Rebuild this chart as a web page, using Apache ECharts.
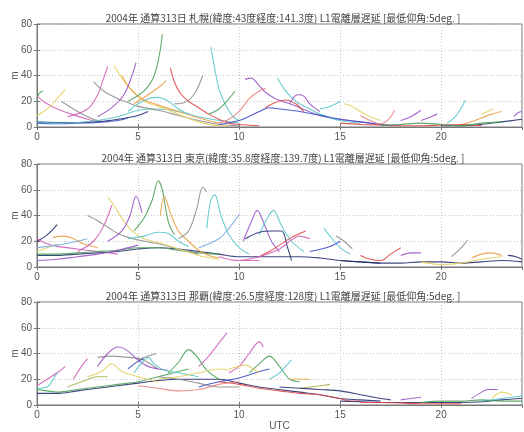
<!DOCTYPE html>
<html><head><meta charset="utf-8">
<script src="https://cdn.jsdelivr.net/npm/echarts@6/dist/echarts.min.js"></script>
<style>html,body{margin:0;padding:0;background:#fff}#c{width:524px;height:432px}</style>
</head><body><div id="c"></div>
<script>
// ---- data ----
const panelTitles = [
  "2004年 通算313日 札幌(緯度:43度経度:141.3度) L1電離層遅延 [最低仰角:5deg. ]",
  "2004年 通算313日 東京(緯度:35.8度経度:139.7度) L1電離層遅延 [最低仰角:5deg. ]",
  "2004年 通算313日 那覇(緯度:26.5度経度:128度) L1電離層遅延 [最低仰角:5deg. ]"
];
const xTicks = [0, 5, 10, 15, 20];
const yTicks = [0, 20, 40, 60, 80];
const xName = "UTC";
const yName = "m";

const sapporoPasses = [
  [[0,21],[0.1,26],[0.3,28]],
  [[0,24],[0.5,18],[1,14],[1.7,10],[2.5,6],[3,4]],
  [[0,9],[0.5,14],[1,22],[1.4,29]],
  [[1.2,20],[1.8,14],[2.5,8],[3,5],[3.5,4]],
  [[0,4],[1,3.5],[2,3.5],[3,4],[4,6],[5,9],[5.5,12]],
  [[0,3],[1,2.5],[2,3],[3,3.5],[4,5],[4.5,7]],
  [[0,4],[1,3],[2,3.5],[3,5],[4,8],[5,13],[6,14],[7,12],[8,8],[9,5],[10,3]],
  [[1.5,8],[2.5,14],[3,25],[3.3,38],[3.5,47]],
  [[2.8,35],[3.3,28],[4,22],[4.5,19],[5,16],[6,13],[7,9],[8,5],[9,2],[10,1]],
  [[3.8,48],[4.2,38],[4.7,28],[5.3,20],[6,16],[7,10],[8,4],[9,1],[9.5,1]],
  [[4.2,40],[4.6,30],[5.2,22],[6,17],[7,12],[8,7],[9,3]],
  [[3,8],[3.7,15],[4.3,25],[4.7,40],[4.9,50]],
  [[4.5,20],[5.3,28],[5.8,40],[6.1,60],[6.2,72]],
  [[4.8,18],[5.5,25],[6.2,33],[6.4,36]],
  [[4.5,12],[5,18],[5.5,22],[6,23],[6.5,20],[7,14],[7.5,10]],
  [[6.6,46],[6.8,35],[7.1,26],[7.5,20],[8,15],[8.5,10],[9,6],[9.5,3],[10,2],[11,1]],
  [[6.8,18],[7.3,19],[7.8,26],[8.2,40]],
  [[8.6,62],[8.8,45],[9,30],[9.3,18],[9.7,8],[10,5]],
  [[8.5,10],[9,14],[9.5,22],[9.8,28]],
  [[10.3,37],[10.6,38],[11,32],[11.3,27],[11.8,22],[12.5,18],[13,15],[14,9],[15,6],[16,4],[17,2]],
  [[9,3],[9.5,6],[10,12],[10.5,22],[11,28],[11.3,30]],
  [[11.9,38],[12.3,28],[12.8,20],[13.5,14],[14,10],[15,5],[16,3]],
  [[11.3,15],[11.8,19],[12.3,21],[12.8,18],[13.2,12]],
  [[12.5,18],[12.9,25],[13.2,24],[13.5,18],[14,12]],
  [[9,2],[10,5],[11,12],[11.5,15],[12,14],[13,12],[14,9],[15,6],[16,4],[17,2],[18,1.5]],
  [[14,14],[14.5,16],[15,20]],
  [[15.2,18],[15.6,16],[16,12],[16.5,8],[17,5]],
  [[16,9],[16.5,5],[17,2.5],[17.4,6],[17.7,13]],
  [[18,5],[18.5,8],[19,13]],
  [[19,5],[19.5,8],[19.8,10]],
  [[20.3,3],[20.7,8],[21,15],[21.2,21]],
  [[21,2],[21.5,4],[22,7],[22.5,10],[23,12]],
  [[22,10],[22.3,12],[22.6,14]],
  [[23.6,8],[23.8,11],[24,12]],
  [[20,1],[21,1],[22,2],[23,4],[24,6]],
  [[15,3],[16,2],[17,1.5],[18,1],[19,1],[20,1.5],[21,2],[22,1]],
  [[17,1],[18,2],[19,3],[20,2],[21,1],[22,3],[23,4]]
];
const sapporoColors = ["G","M","Y","K","N","B","C","M","K","Y","O","P","G","O","C","R","K","C","G","P","S","C","R","P","B","C","Y","S","P","P","C","O","Y","P","N","R","G"];

const tokyoPasses = [
  [[0,20],[0.5,25],[1,33]],
  [[0,22],[0.5,18],[1,16],[2,14],[3,12],[4,10]],
  [[0,9],[1,9],[2,10],[3,11],[4,12],[5,14],[6,15],[7,14],[8,12],[9,10],[10,8],[11,8],[12,8],[13,8],[14,7],[15,5],[16,4],[17,3]],
  [[0,10],[1,10],[2,11],[3,12],[4,13],[5,15],[6,15],[7,13],[8,11],[9,10]],
  [[0,5],[1,6],[2,8],[3,10],[4,13],[5,17]],
  [[0.8,23],[1.3,24],[1.8,22],[2.3,18],[3,15]],
  [[0,12],[0.5,15],[1,18]],
  [[2.5,40],[3,36],[3.5,31],[4,26],[4.5,23],[5,21],[6,18],[7,14],[8,10]],
  [[2,12],[2.8,20],[3.3,32],[3.7,48]],
  [[3.5,54],[3.8,48],[4.2,38],[4.7,28],[5.3,22],[6,19],[7,14],[8,9],[9,6]],
  [[3.5,20],[4.2,28],[4.6,40],[4.9,55],[5.2,42]],
  [[4.8,28],[5.3,38],[5.7,52],[6,67],[6.2,60],[6.5,35],[6.8,25]],
  [[6.1,40],[6.3,55],[6.6,42],[7,28],[7.5,20],[8,13],[8.5,9],[9,7]],
  [[4.5,22],[5.3,24],[6,27],[6.5,26],[7,20],[7.5,16]],
  [[7,22],[7.5,28],[7.9,45],[8.2,62],[8.4,58]],
  [[8.4,30],[8.6,52],[8.8,56],[9.1,40],[9.5,25],[10,15],[10.5,10]],
  [[8,15],[9,22],[9.5,30],[10,41]],
  [[10.2,20],[10.6,35],[10.9,44],[11.2,35],[11.6,20],[12,12]],
  [[11,25],[11.4,38],[11.7,44],[12.1,32],[12.6,20],[13.2,12]],
  [[10.3,22],[11,27],[11.6,28],[12.1,28],[12.4,15],[12.6,5]],
  [[11,8],[11.5,12],[12,17],[12.6,23],[13.3,28]],
  [[10,5],[11,8],[12,14],[12.5,20],[13,24],[13.5,22]],
  [[14.2,30],[14.5,24],[15,15],[15.5,10]],
  [[14.8,24],[15.2,20],[15.6,14]],
  [[13.5,12],[14.5,16],[15,20]],
  [[16,9],[16.5,6],[17,5],[17.5,10],[18,15]],
  [[18,9],[18.5,11],[19,11]],
  [[20.5,8],[21,15],[21.3,21]],
  [[21.5,7],[22,10],[22.5,11],[23,9]],
  [[15,5],[16,4],[17,3],[18,3],[19,4],[20,4],[21,3],[22,4],[23,5],[24,4]],
  [[23.3,9],[23.7,8],[24,6]],
  [[19,4],[20,2],[21,3],[22,6],[23,8]],
  [[9,8],[10,5],[11,5]],
  [[0,15],[1,17],[2,20],[2.5,22]]
];
const tokyoColors = ["N","M","N","G","P","O","Y","K","M","Y","P","G","O","C","K","C","L","P","C","N","R","M","C","K","B","R","P","K","O","N","N","Y","M","L"];

const nahaPasses = [
  [[0,15],[0.5,20],[1,25],[1.4,30]],
  [[0,13],[0.5,14],[0.8,20],[1,25]],
  [[0,9],[1,9],[2,11],[3,13],[4,15],[5,17],[6,19],[7,20],[8,20],[9,20],[10,17],[11,14],[12,12],[13,10],[14,8],[15,5],[16,4],[17,3]],
  [[0,12],[0.5,11],[1,10],[2,12],[3,14],[4,16],[5,18],[6,22],[7,26],[7.5,28]],
  [[1.8,20],[2.2,30],[2.5,36]],
  [[1.5,14],[2.2,18],[3,22],[3.5,22]],
  [[3,37],[3.7,38],[4.5,37],[5.1,36],[5.5,33],[6,28]],
  [[3,30],[3.5,40],[4,45],[4.4,43],[5,35],[5.5,30],[6,28],[6.5,27]],
  [[2.5,22],[3.2,26],[3.7,32],[4.2,26],[5,22],[6,18]],
  [[4.5,28],[5,34],[5.3,36]],
  [[4.8,25],[5.2,33],[5.5,37],[5.8,32],[6.3,27],[7,25],[8,22]],
  [[5,35],[5.5,38],[5.9,40]],
  [[6.5,25],[7,33],[7.5,43],[7.9,38],[8.4,27],[9,20]],
  [[8,30],[8.5,38],[9,48],[9.4,56]],
  [[9.5,25],[10,30],[10.5,40],[11,49],[11.2,45]],
  [[10.5,25],[11,32],[11.5,38],[12,30],[12.5,20],[13,18]],
  [[11.5,20],[12,25],[12.3,30],[12.6,35]],
  [[8,14],[9,18],[10,21],[11,26],[11.5,28]],
  [[9.5,28],[10,30],[10.3,31],[10.8,27],[11,25]],
  [[12.5,20],[13,20],[13.5,20]],
  [[9,18],[10,16],[11,13],[12,11],[13,9],[14,8],[15,5],[15.5,3],[16,3]],
  [[15,3],[16,2.5],[17,2],[18,2],[19,2],[20,2],[21,2],[22,2.5],[23,4],[24,5]],
  [[21.5,5],[22,10],[22.3,12],[22.8,12]],
  [[13,13],[14,15],[14.5,16]],
  [[12,14],[13,13],[14,12],[15,11],[16,8],[17,5],[17.5,4]],
  [[18,4],[18.5,5],[19,6]],
  [[22,3],[23,5],[24,7]],
  [[6,20],[7,22],[8,25],[9,28],[9.5,27]],
  [[5,15],[6,13],[7,11],[8,12],[9,16],[10,18]],
  [[6,22],[7,20],[8,17],[9,14],[10,14]],
  [[19,2],[20,3],[21,3],[22,4],[23,3],[24,3]],
  [[22.5,5],[23,10],[23.5,8]],
  [[16,2],[17,2],[18,1.5],[19,1],[20,1],[21,1]]
];
const nahaColors = ["M","C","N","G","M","V","K","P","Y","B","C","K","G","M","M","G","C","B","Y","O","R","N","P","V","N","P","C","Y","S","K","G","Y","R"];

// ---- styles ----
const palette = {
  P:"#9a55c8", M:"#d063b8", G:"#4ea25a", C:"#5cc8cc", Y:"#e4d262", O:"#eaa048",
  R:"#e04848", B:"#3e4ec8", N:"#283270", K:"#8e8e8e", L:"#74aae2", V:"#a8b450", S:"#e88484"
};
const panels = [
  {passes: sapporoPasses, colors: sapporoColors},
  {passes: tokyoPasses, colors: tokyoColors},
  {passes: nahaPasses, colors: nahaColors}
];
const gridTops = [24, 164, 302];
const gridH = 103;
const axisFont = {color:"#555", fontSize:10, fontFamily:"Liberation Sans, Arial, sans-serif"};

const option = {animation:false, backgroundColor:"#fff", title:[], grid:[], xAxis:[], yAxis:[], series:[], graphic:[]};
panels.forEach((p, i) => {
  option.title.push({
    text: panelTitles[i], left: 278, top: gridTops[i] - 16, textAlign: "center",
    textStyle: {fontSize: 10, fontWeight: "normal", color: "#444", fontFamily: "Noto Sans CJK JP"}
  });
  option.graphic.push({
    type: "text", x: 15, y: gridTops[i] + gridH / 2, rotation: Math.PI / 2, silent: true,
    style: {text: yName, fill: "#555", font: "10px Liberation Sans, Arial, sans-serif",
      align: "center", verticalAlign: "middle"}
  });
  option.grid.push({left: 37, right: 2, top: gridTops[i], height: gridH, show: true,
    outerBoundsMode: "none", containLabel: false,
    borderColor: "#777", borderWidth: 1, backgroundColor: "#fff"});
  const base = i * 2;
  option.xAxis.push({
    type: "value", gridIndex: i, min: 0, max: 24, interval: 5,
    name: i === 2 ? xName : "", nameLocation: "middle", nameGap: 9,
    nameTextStyle: {color: "#555", fontSize: 10},
    axisLine: {show: true, lineStyle: {color: "#777"}},
    axisTick: {inside: true, length: 3, lineStyle: {color: "#777"}},
    axisLabel: Object.assign({margin: 5, showMaxLabel: false,
      formatter: v => xTicks.includes(v) ? String(v) : ""}, axisFont),
    splitLine: {show: true, lineStyle: {color: "#c8c8c8", type: [1, 2]}}
  });
  option.xAxis.push({
    type: "value", gridIndex: i, min: 0, max: 24, interval: 5, position: "top",
    axisLine: {show: false}, axisTick: {inside: true, length: 3, lineStyle: {color: "#777"}},
    axisLabel: {show: false}, splitLine: {show: false}
  });
  option.yAxis.push({
    type: "value", gridIndex: i, min: 0, max: 80, interval: 20,
    axisLine: {show: true, lineStyle: {color: "#777"}},
    axisTick: {show: true, inside: true, length: 3, lineStyle: {color: "#777"}},
    axisLabel: Object.assign({margin: 5, formatter: v => yTicks.includes(v) ? String(v) : ""}, axisFont),
    splitLine: {show: true, lineStyle: {color: "#c8c8c8", type: [1, 2]}}
  });
  option.yAxis.push({
    type: "value", gridIndex: i, min: 0, max: 80, interval: 20, position: "right",
    axisLine: {show: false}, axisTick: {show: true, inside: true, length: 3, lineStyle: {color: "#777"}},
    axisLabel: {show: false}, splitLine: {show: false}
  });
  p.passes.forEach((pts, k) => {
    option.series.push({
      type: "line", xAxisIndex: base, yAxisIndex: base, data: pts,
      showSymbol: false, smooth: 0.35, silent: true,
      lineStyle: {width: 1.1, color: palette[p.colors[k % p.colors.length]], opacity: 0.9}
    });
  });
});
const chart = echarts.init(document.getElementById("c"), null, {renderer: "canvas"});
chart.setOption(option);
</script></body></html>
